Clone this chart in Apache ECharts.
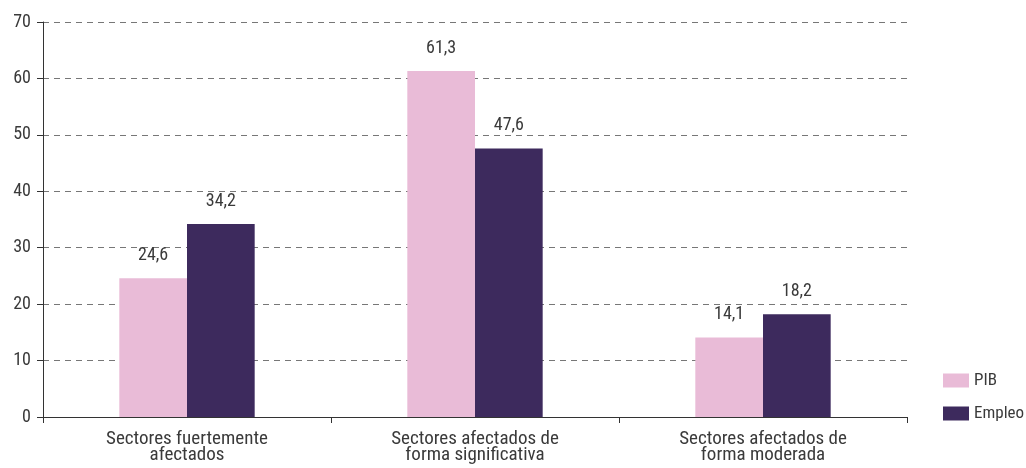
<!DOCTYPE html>
<html><head><meta charset="utf-8">
<script src="https://cdn.jsdelivr.net/npm/echarts@6/dist/echarts.min.js"></script>
<style>html,body{margin:0;padding:0;background:#fff}#c{width:1026px;height:468px}</style>
</head><body><div id="c"></div>
<script>
const categories = ['Sectores fuertemente\nafectados', 'Sectores afectados de\nforma significativa', 'Sectores afectados de\nforma moderada'];
const pib = [24.6, 61.3, 14.1];
const empleo = [34.2, 47.6, 18.2];
const seriesNames = ['PIB', 'Empleo'];
const FONT = '"Liberation Sans Narrow","Roboto Condensed","DejaVu Sans Condensed",sans-serif';
const chart = echarts.init(document.getElementById('c'));
const lbl = {show:true, position:'top', distance:14, color:'#3a3a3a', fontFamily:FONT, fontSize:18,
  formatter: p => p.value.toFixed(1).replace('.', ',')};
chart.setOption({
  animation:false,
  grid:{left:43, right:119, top:22, bottom:51},
  legend:{orient:'vertical', left:938, top:367, itemWidth:26, itemHeight:14, itemGap:16,
    icon:'rect', textStyle:{color:'#3a3a3a', fontFamily:FONT, fontSize:17}, data:seriesNames},
  xAxis:{type:'category', data:categories,
    axisLine:{lineStyle:{color:'#333', width:1}},
    axisTick:{show:true, length:6, lineStyle:{color:'#333'}},
    axisLabel:{color:'#3a3a3a', fontFamily:FONT, fontSize:19, lineHeight:16, margin:14}},
  yAxis:{type:'value', min:0, max:70, interval:10,
    axisLine:{show:true, lineStyle:{color:'#333'}},
    axisTick:{show:true, length:6, lineStyle:{color:'#333'}},
    axisLabel:{color:'#3a3a3a', fontFamily:FONT, fontSize:18, margin:12},
    splitLine:{show:true, lineStyle:{color:'#777', type:[6,5], width:1}}},
  series:[
    {name:seriesNames[0], type:'bar', data:pib, barGap:'0%', barCategoryGap:'53%',
     itemStyle:{color:'#E9BBD7'}, label:lbl},
    {name:seriesNames[1], type:'bar', data:empleo, barGap:'0%', barCategoryGap:'53%',
     itemStyle:{color:'#3D2A5D'}, label:lbl}
  ]
});
</script></body></html>
